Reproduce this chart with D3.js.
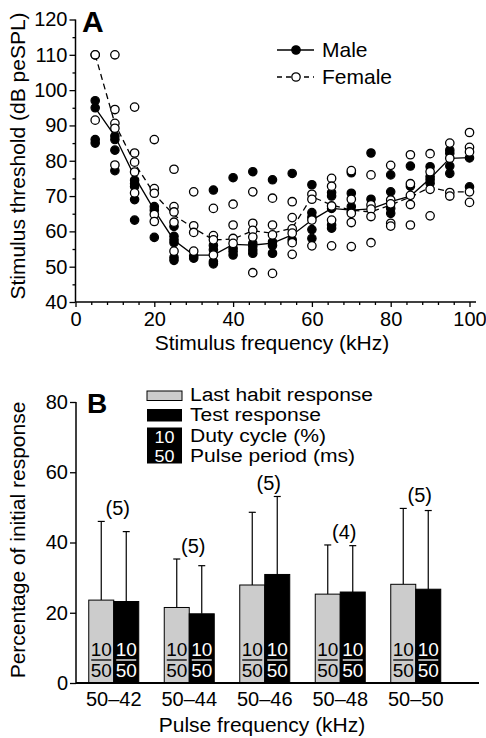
<!DOCTYPE html>
<html><head><meta charset="utf-8">
<script src="https://cdn.jsdelivr.net/npm/d3@7"></script>
<style>
html,body{margin:0;padding:0;background:#fff;}
svg text{font-family:"Liberation Sans",Arial,Helvetica,sans-serif;fill:#000;}
</style></head>
<body>
<svg id="chart" width="486" height="738"></svg>
<script>
// ---------- Panel A data ----------
const frequencies = [5,10,15,20,25,30,35,40,45,50,55,60,65,70,75,80,85,90,95,100];
const maleThresholds = [
  [97,95,86,85],[87,86,83,77.2],[74.5,73.5,72.7,69,63.2],[67,66,58.3],
  [61.4,58.6,57.6,56.8,52.6,51.8],[53,52.4],[71.7,56,54.8,51.4,50.8],
  [75.2,55.2,54.3,53.3],[76.9,56.6,55.7,54.7,53.8],[74.6,57,56,53.8],
  [76.4,57.6],[73.2,65.3,64,60.5,58],[71,70,66.5,61.8,60.9],
  [76.6,70.8,67,65.6],[82.2,69.1],[76,71.2,66.5,65.1],[78.5,72.8],
  [78.3,75.5,74.6,73.6],[83,82.1,78.5,76.4],[80.8,72.6]
];
const femaleThresholds = [
  [110,110,91.5],[110,94.5,90.6,89.2,78.8],[95.2,82.2,79.6,76.8,70.9],
  [86,72.1,70.8,64.8,62.8],[77.6,67,65.5,62.6,54.4],[71.2,61.6,59.7,54.4],
  [66.5,58.8,57.6,53.3],[67.7,61.8,58,56.6],[71.2,62.3,60.3,58.4,48.3],
  [69.4,61.8,59,48.1],[68.4,63.9,60.7,59.5,56.8,53.5],[70.5,69.1,63.2,55.9],
  [75,72.8,67.2,63.2,55.9],[77.2,69.1,65.1,62.5,55.7],[76,67.5,66.3,64.2,56.8],
  [78.7,68.9,67.8,62.3,61.5],[81.7,73.5,70.2,67.6,61.8],[82,76.9,71.9,64.4],
  [85,80.7,71,70],[88,83.8,82.5,71.2,68.2]
];
const maleMean = [95,87,75.5,66,57.5,53.3,53.3,56.3,56.1,56.7,59,63.2,66.5,66,66.4,68.4,70,75,80.7,80.9];
const femaleMean = [110,90.5,79.3,70.6,64.6,60.9,57.6,57.8,60.2,59.5,60.9,69.8,67.5,66,65.5,67.5,69.7,72.5,71.2,71.2];
const xTicksA = [0,20,40,60,80,100];
const yTicksA = [40,50,60,70,80,90,100,110,120];

// ---------- Panel B data ----------
const pulseFrequencies = ["50–42","50–44","50–46","50–48","50–50"];
const lastHabitResponse = [23.6,21.5,27.9,25.3,28.1];
const lastHabitSD = [22.4,13.8,20.7,14.0,21.6];
const testResponse = [23.2,19.7,30.9,25.9,26.7];
const testSD = [19.9,13.7,22.2,13.2,22.4];
const sampleSizes = ["(5)","(5)","(5)","(4)","(5)"];
const dutyCycle = [10,10,10,10,10];
const pulsePeriod = [50,50,50,50,50];
const yTicksB = [0,20,40,60,80];
const legendLabelsB = ["Last habit response","Test response","Duty cycle (%)","Pulse period (ms)"];

const svg = d3.select("#chart");
const FS = 20;

// =============== Panel A ===============
const xA = d3.scaleLinear().domain([0,100]).range([75.5,469.5]);
const yA = d3.scaleLinear().domain([40,120]).range([302,19.5]);
const gA = svg.append("g");

const xMinorA = d3.range(0,101,4).filter(v=>v%20!==0);
gA.append("g").attr("transform","translate(0,302)")
  .call(d3.axisBottom(xA).tickValues(xMinorA).tickSize(3).tickFormat(""))
  .call(g=>g.select(".domain").remove());
gA.append("g").attr("transform","translate(0,302)")
  .call(d3.axisBottom(xA).tickValues(xTicksA).tickSize(5).tickPadding(5))
  .call(g=>g.select(".domain").remove())
  .call(g=>g.selectAll("text").attr("font-size",FS));
const yMinorA = d3.range(45,120,10);
gA.append("g").attr("transform","translate(75.5,0)")
  .call(d3.axisLeft(yA).tickValues(yMinorA).tickSize(3).tickFormat(""))
  .call(g=>g.select(".domain").remove());
gA.append("g").attr("transform","translate(75.5,0)")
  .call(d3.axisLeft(yA).tickValues(yTicksA).tickSize(6).tickPadding(2))
  .call(g=>g.select(".domain").remove())
  .call(g=>g.selectAll("text").attr("font-size",FS));
gA.selectAll(".tick line").attr("stroke","#000").attr("stroke-width",1.3);
gA.append("line").attr("x1",xA(0)).attr("x2",476).attr("y1",yA(40)).attr("y2",yA(40))
  .attr("stroke","#000").attr("stroke-width",1.5);
gA.append("line").attr("x1",xA(0)).attr("x2",xA(0)).attr("y1",yA(40)).attr("y2",yA(120))
  .attr("stroke","#000").attr("stroke-width",1.5);

gA.append("text").attr("transform","translate(25,156) rotate(-90)")
  .attr("text-anchor","middle").attr("font-size",FS+1).text("Stimulus threshold (dB peSPL)");
gA.append("text").attr("x",272).attr("y",350).attr("text-anchor","middle")
  .attr("font-size",FS+1).text("Stimulus frequency (kHz)");
gA.append("text").attr("x",82).attr("y",32).attr("font-size",30).attr("font-weight","bold").text("A");

const lineA = d3.line().x((d,i)=>xA(frequencies[i])).y(d=>yA(d));
gA.append("path").datum(maleMean).attr("d",lineA).attr("fill","none")
  .attr("stroke","#000").attr("stroke-width",1.3);
gA.append("path").datum(femaleMean).attr("d",lineA).attr("fill","none")
  .attr("stroke","#000").attr("stroke-width",1.3).attr("stroke-dasharray","6,4");

const R = 4.2;
const malePts = [], femalePts = [];
frequencies.forEach((f,i)=>{
  maleThresholds[i].forEach(v=>malePts.push({f,v}));
  femaleThresholds[i].forEach(v=>femalePts.push({f,v}));
});
gA.append("g").selectAll("circle").data(malePts).join("circle")
  .attr("cx",d=>xA(d.f)).attr("cy",d=>yA(d.v)).attr("r",R)
  .attr("fill","#000").attr("stroke","#000").attr("stroke-width",1.2);
gA.append("g").selectAll("circle").data(femalePts).join("circle")
  .attr("cx",d=>xA(d.f)).attr("cy",d=>yA(d.v)).attr("r",R)
  .attr("fill","#fff").attr("stroke","#000").attr("stroke-width",1.3);

const legA = gA.append("g");
[["Male","#000",null,50],["Female","#fff","5,4",77]].forEach(([lab,fill,dash,y])=>{
  legA.append("line").attr("x1",277).attr("x2",314).attr("y1",y).attr("y2",y)
    .attr("stroke","#000").attr("stroke-width",1.3).attr("stroke-dasharray",dash);
  legA.append("circle").attr("cx",296).attr("cy",y).attr("r",R)
    .attr("fill",fill).attr("stroke","#000").attr("stroke-width",1.3);
  legA.append("text").attr("x",322).attr("y",y+7).attr("font-size",FS+1).text(lab);
});

// =============== Panel B ===============
const yB = d3.scaleLinear().domain([0,80]).range([683,402]);
const xB = d3.scaleBand().domain(pulseFrequencies).range([76,453.5]);
const sub = d3.scaleBand().domain(["habit","test"]).range([0,xB.bandwidth()]).paddingOuter(0.51);
const gB = svg.append("g");

gB.append("g").attr("transform","translate(76,0)")
  .call(d3.axisLeft(yB).tickValues(yTicksB).tickSize(6).tickPadding(2))
  .call(g=>g.select(".domain").remove())
  .call(g=>g.selectAll("text").attr("font-size",FS))
  .call(g=>g.selectAll(".tick line").attr("stroke-width",1.3));
gB.append("line").attr("x1",76).attr("x2",76).attr("y1",yB(0)).attr("y2",yB(80))
  .attr("stroke","#000").attr("stroke-width",1.5);

const series = [
  {key:"habit",vals:lastHabitResponse,sd:lastHabitSD,fill:"#cccccc",txt:"#000"},
  {key:"test",vals:testResponse,sd:testSD,fill:"#000",txt:"#fff"}
];
pulseFrequencies.forEach((p,i)=>{
  series.forEach(s=>{
    const x0 = xB(p)+sub(s.key), w = sub.bandwidth(), cx = x0+w/2;
    const v = s.vals[i], top = v+s.sd[i];
    gB.append("line").attr("x1",cx).attr("x2",cx).attr("y1",yB(v)).attr("y2",yB(top))
      .attr("stroke","#000").attr("stroke-width",1.2);
    gB.append("line").attr("x1",cx-3.5).attr("x2",cx+3.5).attr("y1",yB(top)).attr("y2",yB(top))
      .attr("stroke","#000").attr("stroke-width",1.2);
    gB.append("rect").attr("x",x0).attr("y",yB(v)).attr("width",w).attr("height",yB(0)-yB(v))
      .attr("fill",s.fill).attr("stroke","#000").attr("stroke-width",1);
    gB.append("text").attr("x",cx).attr("y",655.5).attr("text-anchor","middle")
      .attr("font-size",19).style("fill",s.txt).text(dutyCycle[i]);
    gB.append("line").attr("x1",cx-10).attr("x2",cx+10).attr("y1",660).attr("y2",660)
      .attr("stroke",s.txt).attr("stroke-width",1.3);
    gB.append("text").attr("x",cx).attr("y",677).attr("text-anchor","middle")
      .attr("font-size",19).style("fill",s.txt).text(pulsePeriod[i]);
  });
  const maxTop = Math.max(lastHabitResponse[i]+lastHabitSD[i], testResponse[i]+testSD[i]);
  gB.append("text").attr("x",xB(p)+xB.bandwidth()/2+4).attr("y",yB(maxTop)-6)
    .attr("text-anchor","middle").attr("font-size",FS).text(sampleSizes[i]);
});
gB.append("line").attr("x1",76).attr("x2",479).attr("y1",yB(0)).attr("y2",yB(0))
  .attr("stroke","#000").attr("stroke-width",2);
gB.append("g").attr("transform","translate(0,683)")
  .call(d3.axisBottom(xB).tickSize(0).tickPadding(9))
  .call(g=>g.select(".domain").remove())
  .call(g=>g.selectAll("text").attr("font-size",FS));

gB.append("text").attr("transform","translate(25,540) rotate(-90)")
  .attr("text-anchor","middle").attr("font-size",FS+1).text("Percentage of initial response");
gB.append("text").attr("x",262).attr("y",732).attr("text-anchor","middle")
  .attr("font-size",FS+1).text("Pulse frequency (kHz)");
gB.append("text").attr("x",87).attr("y",413).attr("font-size",28).attr("font-weight","bold").text("B");

// legend B (tightly stacked as in the reference)
const legB = gB.append("g");
legB.append("rect").attr("x",147).attr("y",391).attr("width",35).attr("height",9.5)
  .attr("fill","#cccccc").attr("stroke","#000").attr("stroke-width",1);
legB.append("rect").attr("x",147).attr("y",409).attr("width",35).attr("height",12.5)
  .attr("fill","#000");
legB.append("rect").attr("x",147).attr("y",427.5).attr("width",35).attr("height",36)
  .attr("fill","#000");
legB.append("text").attr("x",164.5).attr("y",442.5).attr("text-anchor","middle")
  .attr("font-size",17).attr("textLength",20).attr("lengthAdjust","spacingAndGlyphs")
  .style("fill","#fff").text(dutyCycle[0]);
legB.append("text").attr("x",164.5).attr("y",462).attr("text-anchor","middle")
  .attr("font-size",17).attr("textLength",20).attr("lengthAdjust","spacingAndGlyphs")
  .style("fill","#fff").text(pulsePeriod[0]);
const legYs = [400.5,421,441.5,462];
const legWidths = [183,131,136,165];
legendLabelsB.forEach((t,k)=>legB.append("text").attr("x",190).attr("y",legYs[k])
  .attr("font-size",18).attr("textLength",legWidths[k]).attr("lengthAdjust","spacingAndGlyphs").text(t));
</script>
</body></html>
